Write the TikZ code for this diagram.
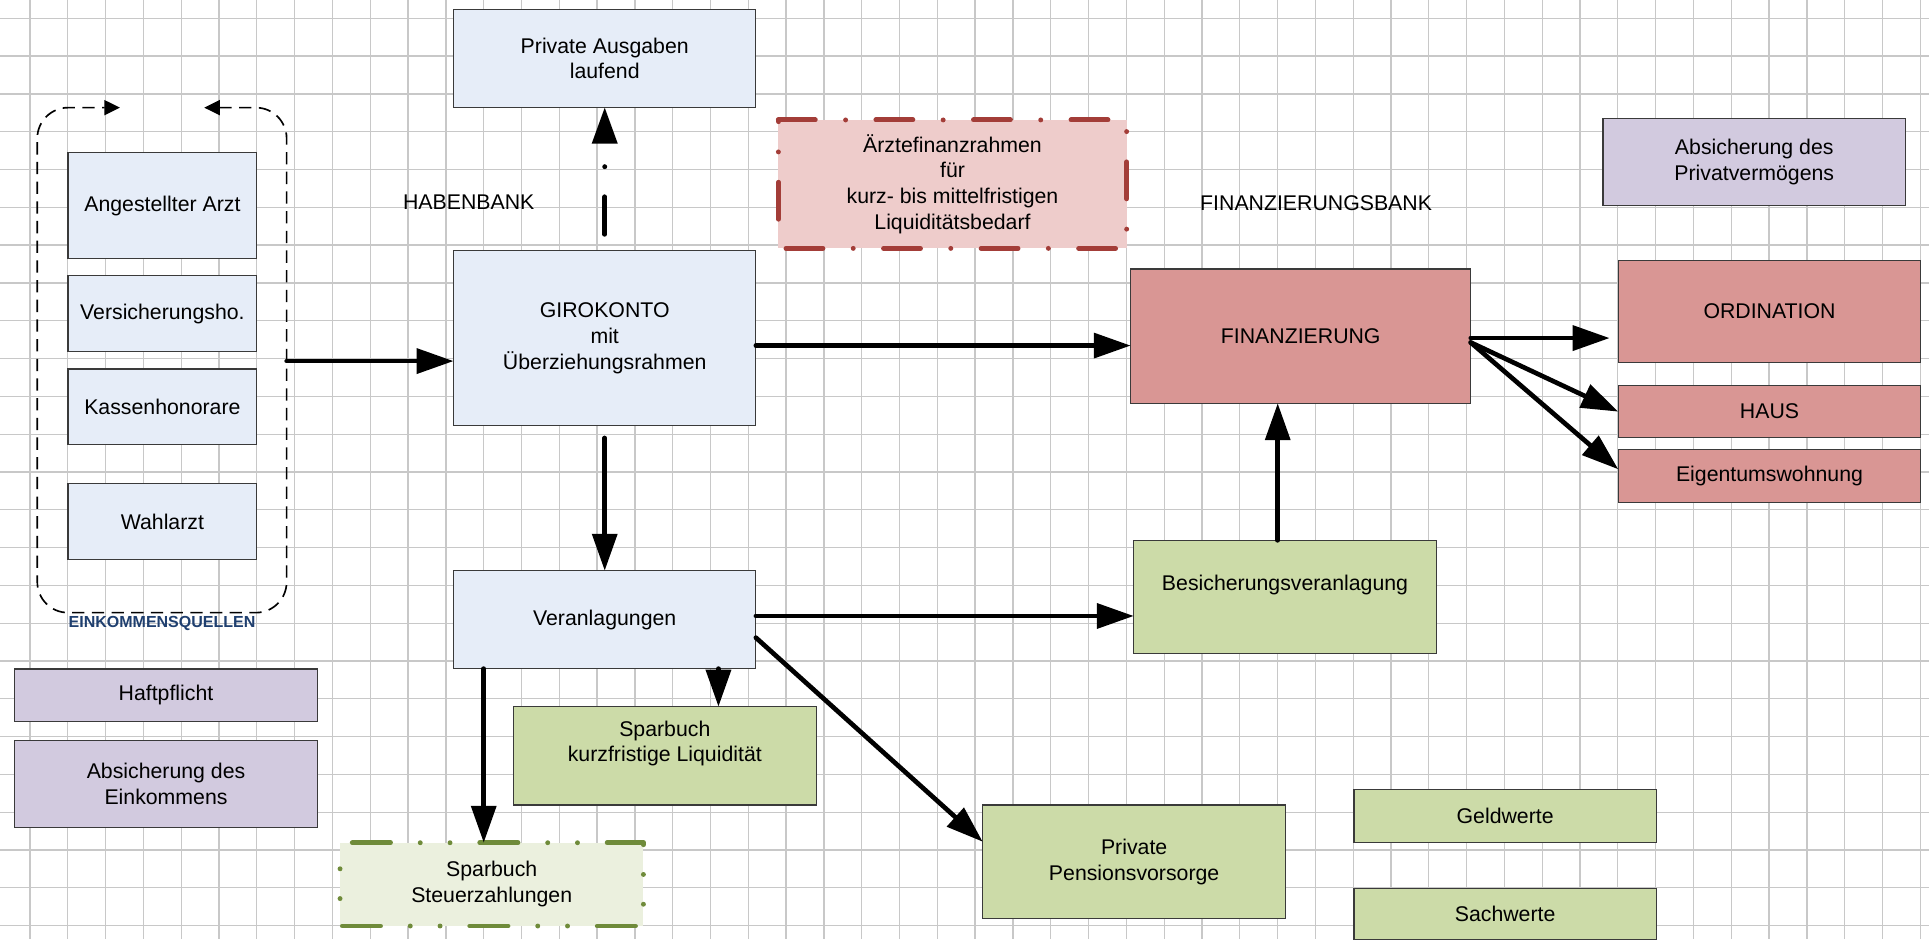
\documentclass[tikz,border=0pt]{standalone}
\usepackage{fontspec}
\setmainfont{Liberation Sans}
\usetikzlibrary{arrows.meta,calc}
\definecolor{gridc}{HTML}{C8C8C8}
\definecolor{bordc}{HTML}{3A3A3A}
\definecolor{lblue}{HTML}{E6EDF8}
\definecolor{lav}{HTML}{D2CADF}
\definecolor{lgreen}{HTML}{CCDBA8}
\definecolor{rose}{HTML}{D99694}
\definecolor{arzfill}{HTML}{EECCCB}
\definecolor{stfill}{HTML}{EBF0DE}
\definecolor{redb}{HTML}{A33D38}
\definecolor{oliveb}{HTML}{6F8B3A}
\definecolor{einkc}{HTML}{1F3F6F}
\begin{document}
\begin{tikzpicture}[x=1pt,y=-1pt,
  txt/.style={font=\fontsize{17.3pt}{21pt}\selectfont, align=center, inner sep=0pt},
  box/.style={draw=bordc, line width=1pt, inner sep=0pt, outer sep=0pt, anchor=north west, txt},
  gridline/.style={draw=gridc, line width=1.05pt},
  arr/.style={line width=3.8pt, line cap=round, -{Triangle[length=30pt,width=20pt]}},
  loopline/.style={line width=1.35pt, dash pattern=on 10pt off 6pt},
  redborder/.style={draw=redb, line width=4pt, line cap=round, line join=round},
  greenborder/.style={draw=oliveb, line width=4pt, line cap=round, line join=round}
]
\useasboundingbox (0,0) rectangle (1568,763.3);
\fill[white] (0,0) rectangle (1568,763.3);
% grid
\foreach \i in {0,...,50} \draw[gridline] ({24.39+30.73*\i},0) -- ({24.39+30.73*\i},763.3);
\foreach \j in {0,...,24} \draw[gridline] (0,{14.88+30.73*\j}) -- (1568,{14.88+30.73*\j});

% left column
\node[box, fill=lblue, minimum width=153.4pt, minimum height=85.9pt] (ang) at (55.3,124.1) {Angestellter Arzt};
\node[box, fill=lblue, minimum width=153.4pt, minimum height=62.2pt] (vers) at (55.3,223.8) {Versicherungsho.};
\node[box, fill=lblue, minimum width=153.4pt, minimum height=61pt] (kas) at (55.3,300) {Kassenhonorare};
\node[box, fill=lblue, minimum width=153.4pt, minimum height=62pt] (wahl) at (55.3,393) {Wahlarzt};

% loop
\draw[loopline, {Triangle[length=12.7pt,width=12.2pt]}-{Triangle[length=12.7pt,width=12.2pt]}, rounded corners=25pt]
  (166,87.5) -- (233,87.5) -- (233,498) -- (30.3,498) -- (30.3,87.5) -- (97.5,87.5);
\coordinate (loopR) at (233,293.5);
\node[font=\bfseries\fontsize{13pt}{15pt}\selectfont, text=einkc, inner sep=0pt] (eink) at (131.7,507) {EINKOMMENSQUELLEN};

\node[box, fill=lav, minimum width=246.1pt, minimum height=42.8pt] (haft) at (11.9,543.8) {Haftpflicht};
\node[box, fill=lav, minimum width=246.1pt, minimum height=70.5pt] (abse) at (11.9,602) {Absicherung des\\Einkommens};

% center column
\node[box, fill=lblue, minimum width=245.7pt, minimum height=79.6pt] (pa) at (368.7,7.6) {Private Ausgaben\\laufend};
\node[box, fill=lblue, minimum width=245.7pt, minimum height=142.2pt] (giro) at (368.7,203.8) {GIROKONTO\\mit\\Überziehungsrahmen};
\node[box, fill=lblue, minimum width=245.7pt, minimum height=79.6pt] (ver) at (368.7,463.9) {Veranlagungen};
\node[box, fill=lgreen, minimum width=246.4pt, minimum height=80pt] (spk) at (417.2,574.4) {};
\node[txt] (spkt) at ($(spk.center)+(0,-10)$) {Sparbuch\\kurzfristige Liquidität};

\node[box, draw=none, fill=stfill, minimum width=246.6pt, minimum height=67.7pt] (st) at (276.4,685) {Sparbuch\\Steuerzahlungen};
\draw[greenborder, dash pattern=on 31pt off 24.2pt on 0pt off 24.2pt on 0pt off 24.2pt, dash phase=93.6pt]
  (st.north west) -- (st.north east) -- (st.south east) -- (st.south west) -- cycle;

\node[txt] (hab) at (381,164.5) {HABENBANK};
\node[txt] (finbank) at (1069.8,164.9) {FINANZIERUNGSBANK};

% Aerzte box
\node[box, draw=none, fill=arzfill, minimum width=283.1pt, minimum height=104.4pt] (arz) at (632.7,97.5) {Ärztefinanzrahmen\\für\\kurz- bis mittelfristigen\\Liquiditätsbedarf};
\draw[redborder, dash pattern=on 30pt off 24.65pt on 0pt off 24.65pt]
  (arz.north west) -- (arz.north east) -- (arz.south east) -- (arz.south west);
\draw[redborder, dash pattern=on 30pt off 24.65pt on 0pt off 24.65pt, dash phase=28.65pt]
  (arz.north west) -- (arz.south west);

% right side
\node[box, fill=rose, minimum width=276.4pt, minimum height=109.2pt] (fin) at (919.1,218.6) {FINANZIERUNG};
\node[box, fill=lgreen, minimum width=245.9pt, minimum height=91.8pt] (bes) at (921.6,439.2) {};
\node[txt] (best) at ($(bes.center)+(0,-9.6)$) {Besicherungsveranlagung};
\node[box, fill=lgreen, minimum width=246.2pt, minimum height=92.1pt] (pen) at (798.8,654.4) {Private\\Pensionsvorsorge};
\node[box, fill=lgreen, minimum width=245.9pt, minimum height=42.8pt] (geld) at (1100.5,641.9) {Geldwerte};
\node[box, fill=lgreen, minimum width=245.9pt, minimum height=42pt] (sach) at (1100.5,722) {Sachwerte};
\node[box, fill=lav, minimum width=245.9pt, minimum height=70.8pt] (absp) at (1303,96.4) {Absicherung des\\Privatvermögens};
\node[box, fill=rose, minimum width=245.9pt, minimum height=82.8pt] (ord) at (1315.4,211.9) {ORDINATION};
\node[box, fill=rose, minimum width=245.9pt, minimum height=42.6pt] (haus) at (1315.4,313.3) {HAUS};
\node[box, fill=rose, minimum width=245.9pt, minimum height=42.7pt] (eig) at (1315.4,365.5) {Eigentumswohnung};

% connectors
\draw[arr] (loopR) -- (loopR -| giro.west);
\draw[line width=4pt, line cap=round, dash pattern=on 30.4pt off 24.5pt on 0pt off 24.5pt, -{Triangle[length=29.5pt,width=20pt]}]
  ([yshift=13.4pt]giro.north) -- (pa.south);
\draw[arr] ([yshift=-6pt]giro.east) -- ([yshift=-6pt]giro.east -| fin.west);
\draw[arr] ([yshift=-10pt]giro.south) -- (ver.north);
\draw[arr] ([yshift=3pt]ver.east) -- ([yshift=3pt]ver.east -| bes.west);
\draw[arr] ([yshift=-14.6pt]ver.east) -- ([yshift=-29.8pt]pen.north west);
\draw[arr] ([xshift=92.45pt]ver.south) -- ([xshift=92.45pt]ver.south |- spk.north);
\draw[arr] ([xshift=-98.35pt]ver.south) -- ([xshift=-98.35pt]ver.south |- st.north);
\draw[arr] ([xshift=-5.95pt]bes.north) -- ([xshift=-5.95pt]bes.north |- fin.south);
\draw[arr, shorten >=7pt] ([yshift=-1.6pt]fin.east) -- ([yshift=-1.6pt]fin.east -| ord.west);
\draw[arr] ([yshift=-5.2pt]fin.east) -- (haus.west);
\draw[arr] ([yshift=-5.2pt]fin.east) -- ([yshift=5.4pt]eig.west);
\end{tikzpicture}
\end{document}
